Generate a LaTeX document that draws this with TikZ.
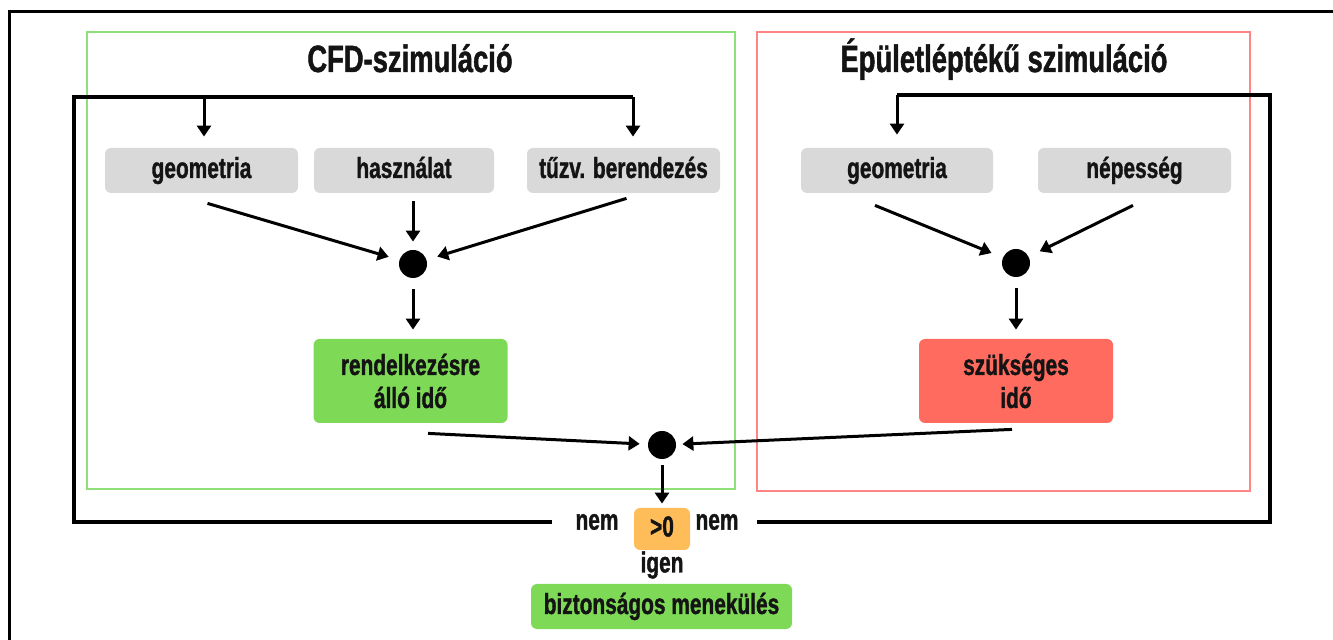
\documentclass[tikz,border=0pt]{standalone}
\usepackage{fontspec}
\setmainfont{Liberation Sans}[FakeStretch=0.72, BoldFeatures={FakeBold=1.2}]
\usetikzlibrary{arrows.meta,calc}

\definecolor{boxgray}{HTML}{D9D9D9}
\definecolor{okgreen}{HTML}{7ED957}
\definecolor{warnred}{HTML}{FF6B5E}
\definecolor{amber}{HTML}{FFBD59}
\definecolor{framegreen}{HTML}{8FE07A}
\definecolor{framered}{HTML}{FF8585}
\definecolor{ink}{HTML}{141414}

\begin{document}
\begin{tikzpicture}[x=0.5pt,y=-0.5pt,
  lbl/.style={font=\bfseries\fontsize{14.5pt}{16.5pt}\selectfont, text=ink, align=center},
  title/.style={font=\bfseries\fontsize{19pt}{22pt}\selectfont, text=ink},
  inbox/.style={lbl, rounded corners=3pt, inner sep=0pt},
  onerow/.style={inbox, text height=10.5pt, text depth=3pt},
  graybox/.style={onerow, fill=boxgray, minimum height=22.5pt},
  timebox/.style={inbox, minimum width=97pt, minimum height=42pt},
  joint/.style={circle, fill=black, inner sep=0pt, minimum size=14pt},
  arr/.style={draw=black, line width=1.5pt, -{Triangle[width=7pt,length=5.5pt]}},
  loopline/.style={draw=black, line width=1.6pt},
  groupframe/.style={line width=1pt}
]
\useasboundingbox (0,0) rectangle (1333,640);

% outer frame
\draw[line width=1.5pt] (9,640) -- (9,12) -- (1333,12);

% group frames
\draw[groupframe, framegreen] (87,32) rectangle (735,489);
\draw[groupframe, framered] (757,32) rectangle (1250,491);

% titles
\node[title, anchor=base] (cfdtitle) at (410,72) {CFD-szimuláció};
\node[title, anchor=base] (bldtitle) at (1004,72) {Épületléptékű szimuláció};

% input boxes
\node[graybox, minimum width=96.5pt] (geo1) at (201.5,170.5) {geometria};
\node[graybox, minimum width=90pt]   (use)  at (404,170.5)   {használat};
\node[graybox, minimum width=96.5pt] (fire) at (623.5,170.5) {tűzv. berendezés};
\node[graybox, minimum width=96pt]   (geo2) at (897,170.5)   {geometria};
\node[graybox, minimum width=96.5pt] (pop)  at (1134.5,170.5){népesség};

% junctions
\node[joint] (j1) at (413,264) {};
\node[joint] (j2) at (1016,263) {};
\node[joint] (j3) at (662,445) {};

% result boxes
\node[timebox, fill=okgreen] (avail) at (410.5,381) {rendelkezésre\\álló idő};
\node[timebox, fill=warnred] (need)  at (1016,381)  {szükséges\\idő};

% decision
\node[onerow, fill=amber, minimum width=28pt, minimum height=21pt] (cmp) at (662,529) {>0};
\node[lbl, inner xsep=11.75pt, inner ysep=0pt] (nemL) at (597,522) {nem};
\node[lbl, inner xsep=9pt, inner ysep=0pt] (nemR) at (717,522) {nem};
\node[lbl] (igen) at (662,565) {igen};
\node[onerow, fill=okgreen, minimum width=130.5pt, minimum height=22.5pt] (safe) at (661.5,606.5) {biztonságos menekülés};

% feedback loops
\coordinate (lcorner) at (74,97);
\coordinate (ltop1) at (204,97);
\coordinate (ltop2) at (633,97);
\coordinate (rcorner) at (1270,95);
\coordinate (rtop) at (897,95);

\draw[loopline] (nemL.west) -| (lcorner) -- (ltop2);
\draw[arr, shorten >=5.5pt] (ltop1) -- (ltop1 |- geo1.north);
\draw[arr, shorten >=5.5pt] (ltop2) -- (ltop2 |- fire.north);
\draw[loopline] (nemR.east) -| (rcorner) -- (rtop);
\draw[arr, shorten >=6.5pt] (rtop) -- (rtop |- geo2.north);

% CFD branch
\draw[arr, shorten >=5.5pt] ([xshift=3pt,yshift=-5pt]geo1.south) -- (j1);
\draw[arr, shorten >=4pt] ([yshift=-4pt]j1 |- use.south) -- (j1);
\draw[arr, shorten >=5.5pt] ([xshift=1.5pt,yshift=-2.5pt]fire.south) -- (j1);
\draw[arr, shorten <=5.5pt, shorten >=4.5pt] (j1) -- (j1 |- avail.north);

% building-scale branch
\draw[arr, shorten >=6pt] ([xshift=-11pt,yshift=-6pt]geo2.south) -- (j2);
\draw[arr, shorten >=6pt] ([xshift=-0.75pt,yshift=-6pt]pop.south) -- (j2);
\draw[arr, shorten <=5.5pt, shorten >=4.5pt] (j2) -- (j2 |- need.north);

% comparison
\draw[arr, shorten >=4pt] ([xshift=8.75pt,yshift=-5pt]avail.south) -- (j3);
\draw[arr, shorten >=3pt] ([xshift=-2pt,yshift=-3pt]need.south) -- (j3);
\draw[arr, shorten <=3pt, shorten >=2pt] (j3) -- (cmp.north);
\end{tikzpicture}
\end{document}
